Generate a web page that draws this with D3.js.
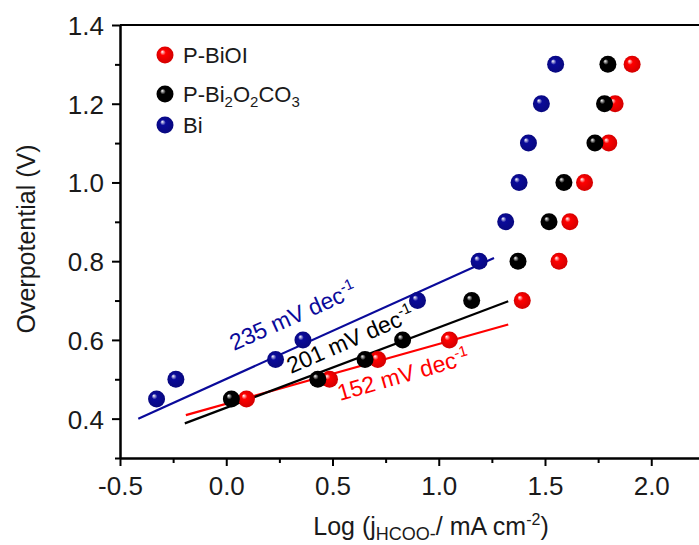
<!DOCTYPE html>
<html><head><meta charset="utf-8">
<script src="https://cdn.jsdelivr.net/npm/d3@7/dist/d3.min.js"></script>
<style>body{margin:0;background:#fff}svg{display:block;font-family:"Liberation Sans",Arial,sans-serif}</style>
</head><body><svg id="c" width="699" height="545"></svg>
<script>
const xTicks = [-0.5, 0.0, 0.5, 1.0, 1.5, 2.0];
const yTicks = [0.4, 0.6, 0.8, 1.0, 1.2, 1.4];
const seriesNames = ["P-BiOI", "P-Bi2O2CO3", "Bi"];
const seriesColors = ["#ff0000", "#000000", "#0a0a9a"];
const biOIx = [0.095, 0.486, 0.713, 1.05, 1.393, 1.566, 1.617, 1.686, 1.80, 1.83, 1.91];
const biOIy = [0.45, 0.50, 0.55, 0.60, 0.70, 0.80, 0.90, 1.00, 1.10, 1.20, 1.30];
const bi2o2co3x = [0.024, 0.431, 0.653, 0.83, 1.155, 1.373, 1.519, 1.589, 1.735, 1.78, 1.796];
const bi2o2co3y = [0.45, 0.50, 0.55, 0.60, 0.70, 0.80, 0.90, 1.00, 1.10, 1.20, 1.30];
const bix = [-0.328, -0.237, 0.232, 0.361, 0.90, 1.19, 1.315, 1.378, 1.422, 1.483, 1.55];
const biy = [0.45, 0.50, 0.55, 0.60, 0.70, 0.80, 0.90, 1.00, 1.10, 1.20, 1.30];
const fitBiOI = [[-0.19, 0.409], [1.327, 0.639]];
const fitBi2O2CO3 = [[-0.195, 0.388], [1.327, 0.698]];
const fitBi = [[-0.414, 0.400], [1.26, 0.808]];
const slopeLabels = ["152 mV dec", "201 mV dec", "235 mV dec"];

const FONT = "'Liberation Sans',Arial,sans-serif";
const svg = d3.select("#c");
const x = d3.scaleLinear().domain([-0.5, 2.5]).range([120, 757.5]);
const y = d3.scaleLinear().domain([0.3, 1.4]).range([458, 25]);
const fmt = d => d.toFixed(1);

// gradients
const defs = svg.append("defs");
seriesColors.forEach((c, i) => {
  const g = defs.append("radialGradient").attr("id", "g" + i)
    .attr("cx", "0.5").attr("cy", "0.5").attr("r", "0.55").attr("fx", "0.33").attr("fy", "0.3");
  g.append("stop").attr("offset", "0").attr("stop-color", "#ffffff").attr("stop-opacity", 0.95);
  g.append("stop").attr("offset", "0.3").attr("stop-color", c);
  g.append("stop").attr("offset", "1").attr("stop-color", d3.color(c).darker(0.6));
});

// axes
const gx = svg.append("g").attr("transform", "translate(0,458)");
gx.append("g").call(d3.axisBottom(x).tickValues(d3.range(-0.25, 2.3, 0.5)).tickFormat("").tickSize(5).tickSizeOuter(0));
const gxm = gx.append("g").call(d3.axisBottom(x).tickValues(xTicks).tickFormat(fmt).tickSize(8).tickSizeOuter(0).tickPadding(11));
const gy = svg.append("g").attr("transform", "translate(120,0)");
gy.append("g").call(d3.axisLeft(y).tickValues([0.3, 0.5, 0.7, 0.9, 1.1, 1.3]).tickFormat("").tickSize(5).tickSizeOuter(0));
const gym = gy.append("g").call(d3.axisLeft(y).tickValues(yTicks).tickFormat(fmt).tickSize(8).tickSizeOuter(0).tickPadding(8));
[gxm, gym].forEach(g => g.attr("font-size", 26).attr("font-family", FONT));
svg.selectAll(".domain").attr("stroke", "#000").attr("stroke-width", 2);
svg.selectAll(".tick line").attr("stroke", "#000").attr("stroke-width", 2);
svg.selectAll(".tick text").attr("fill", "#1a1a1a").attr("font-size", 26).attr("font-family", FONT);
gym.selectAll(".tick text").attr("dy", "0.36em");
// top frame line
svg.append("line").attr("x1", x(-0.5)).attr("x2", 699).attr("y1", y(1.4)).attr("y2", y(1.4)).attr("stroke", "#000").attr("stroke-width", 2);

// axis titles
const xt = svg.append("text").attr("x", 431).attr("y", 535).attr("text-anchor", "middle").attr("font-size", 25).attr("fill", "#1a1a1a");
xt.append("tspan").text("Log (j");
xt.append("tspan").attr("font-size", 18).attr("dy", 5).text("HCOO-");
xt.append("tspan").attr("dy", -5).text("/ mA cm");
xt.append("tspan").attr("font-size", 16).attr("dy", -10).text("-2");
xt.append("tspan").attr("dy", 10).text(")");
svg.append("text").attr("transform", "translate(35,239) rotate(-90)").attr("text-anchor", "middle")
  .attr("font-size", 25).attr("fill", "#1a1a1a").text("Overpotential (V)");

// fit lines
const fits = [fitBiOI, fitBi2O2CO3, fitBi];
const line = d3.line().x(d => x(d[0])).y(d => y(d[1]));
fits.forEach((f, i) => {
  svg.append("path").attr("d", line(f)).attr("fill", "none").attr("stroke", seriesColors[i]).attr("stroke-width", 2.2);
});

// points
const sets = [[biOIx, biOIy], [bi2o2co3x, bi2o2co3y], [bix, biy]];
sets.forEach((s, i) => {
  svg.append("g").selectAll("circle").data(s[0].map((v, k) => [v, s[1][k]])).join("circle")
    .attr("cx", d => x(d[0])).attr("cy", d => y(d[1])).attr("r", 8.5).attr("fill", "url(#g" + i + ")");
});

// slope labels
const labelPos = [[340, 401, -16], [291, 374, -23.5], [234, 351, -24]];
slopeLabels.forEach((t, i) => {
  const tx = svg.append("text").attr("transform", `translate(${labelPos[i][0]},${labelPos[i][1]}) rotate(${labelPos[i][2]})`)
    .attr("font-size", 23).attr("fill", seriesColors[i]);
  tx.append("tspan").text(t);
  tx.append("tspan").attr("font-size", 15).attr("dy", -9).text("-1");
});

// legend
const legY = [55, 94, 125];
seriesNames.forEach((n, i) => {
  svg.append("circle").attr("cx", 165).attr("cy", legY[i]).attr("r", 8.5).attr("fill", "url(#g" + i + ")");
  const t = svg.append("text").attr("x", 183).attr("y", legY[i] + 8).attr("font-size", 22).attr("fill", "#1a1a1a");
  if (i === 1) {
    t.append("tspan").text("P-Bi");
    t.append("tspan").attr("font-size", 15).attr("dy", 5).text("2");
    t.append("tspan").attr("dy", -5).text("O");
    t.append("tspan").attr("font-size", 15).attr("dy", 5).text("2");
    t.append("tspan").attr("dy", -5).text("CO");
    t.append("tspan").attr("font-size", 15).attr("dy", 5).text("3");
  } else t.text(n);
});
</script></body></html>
